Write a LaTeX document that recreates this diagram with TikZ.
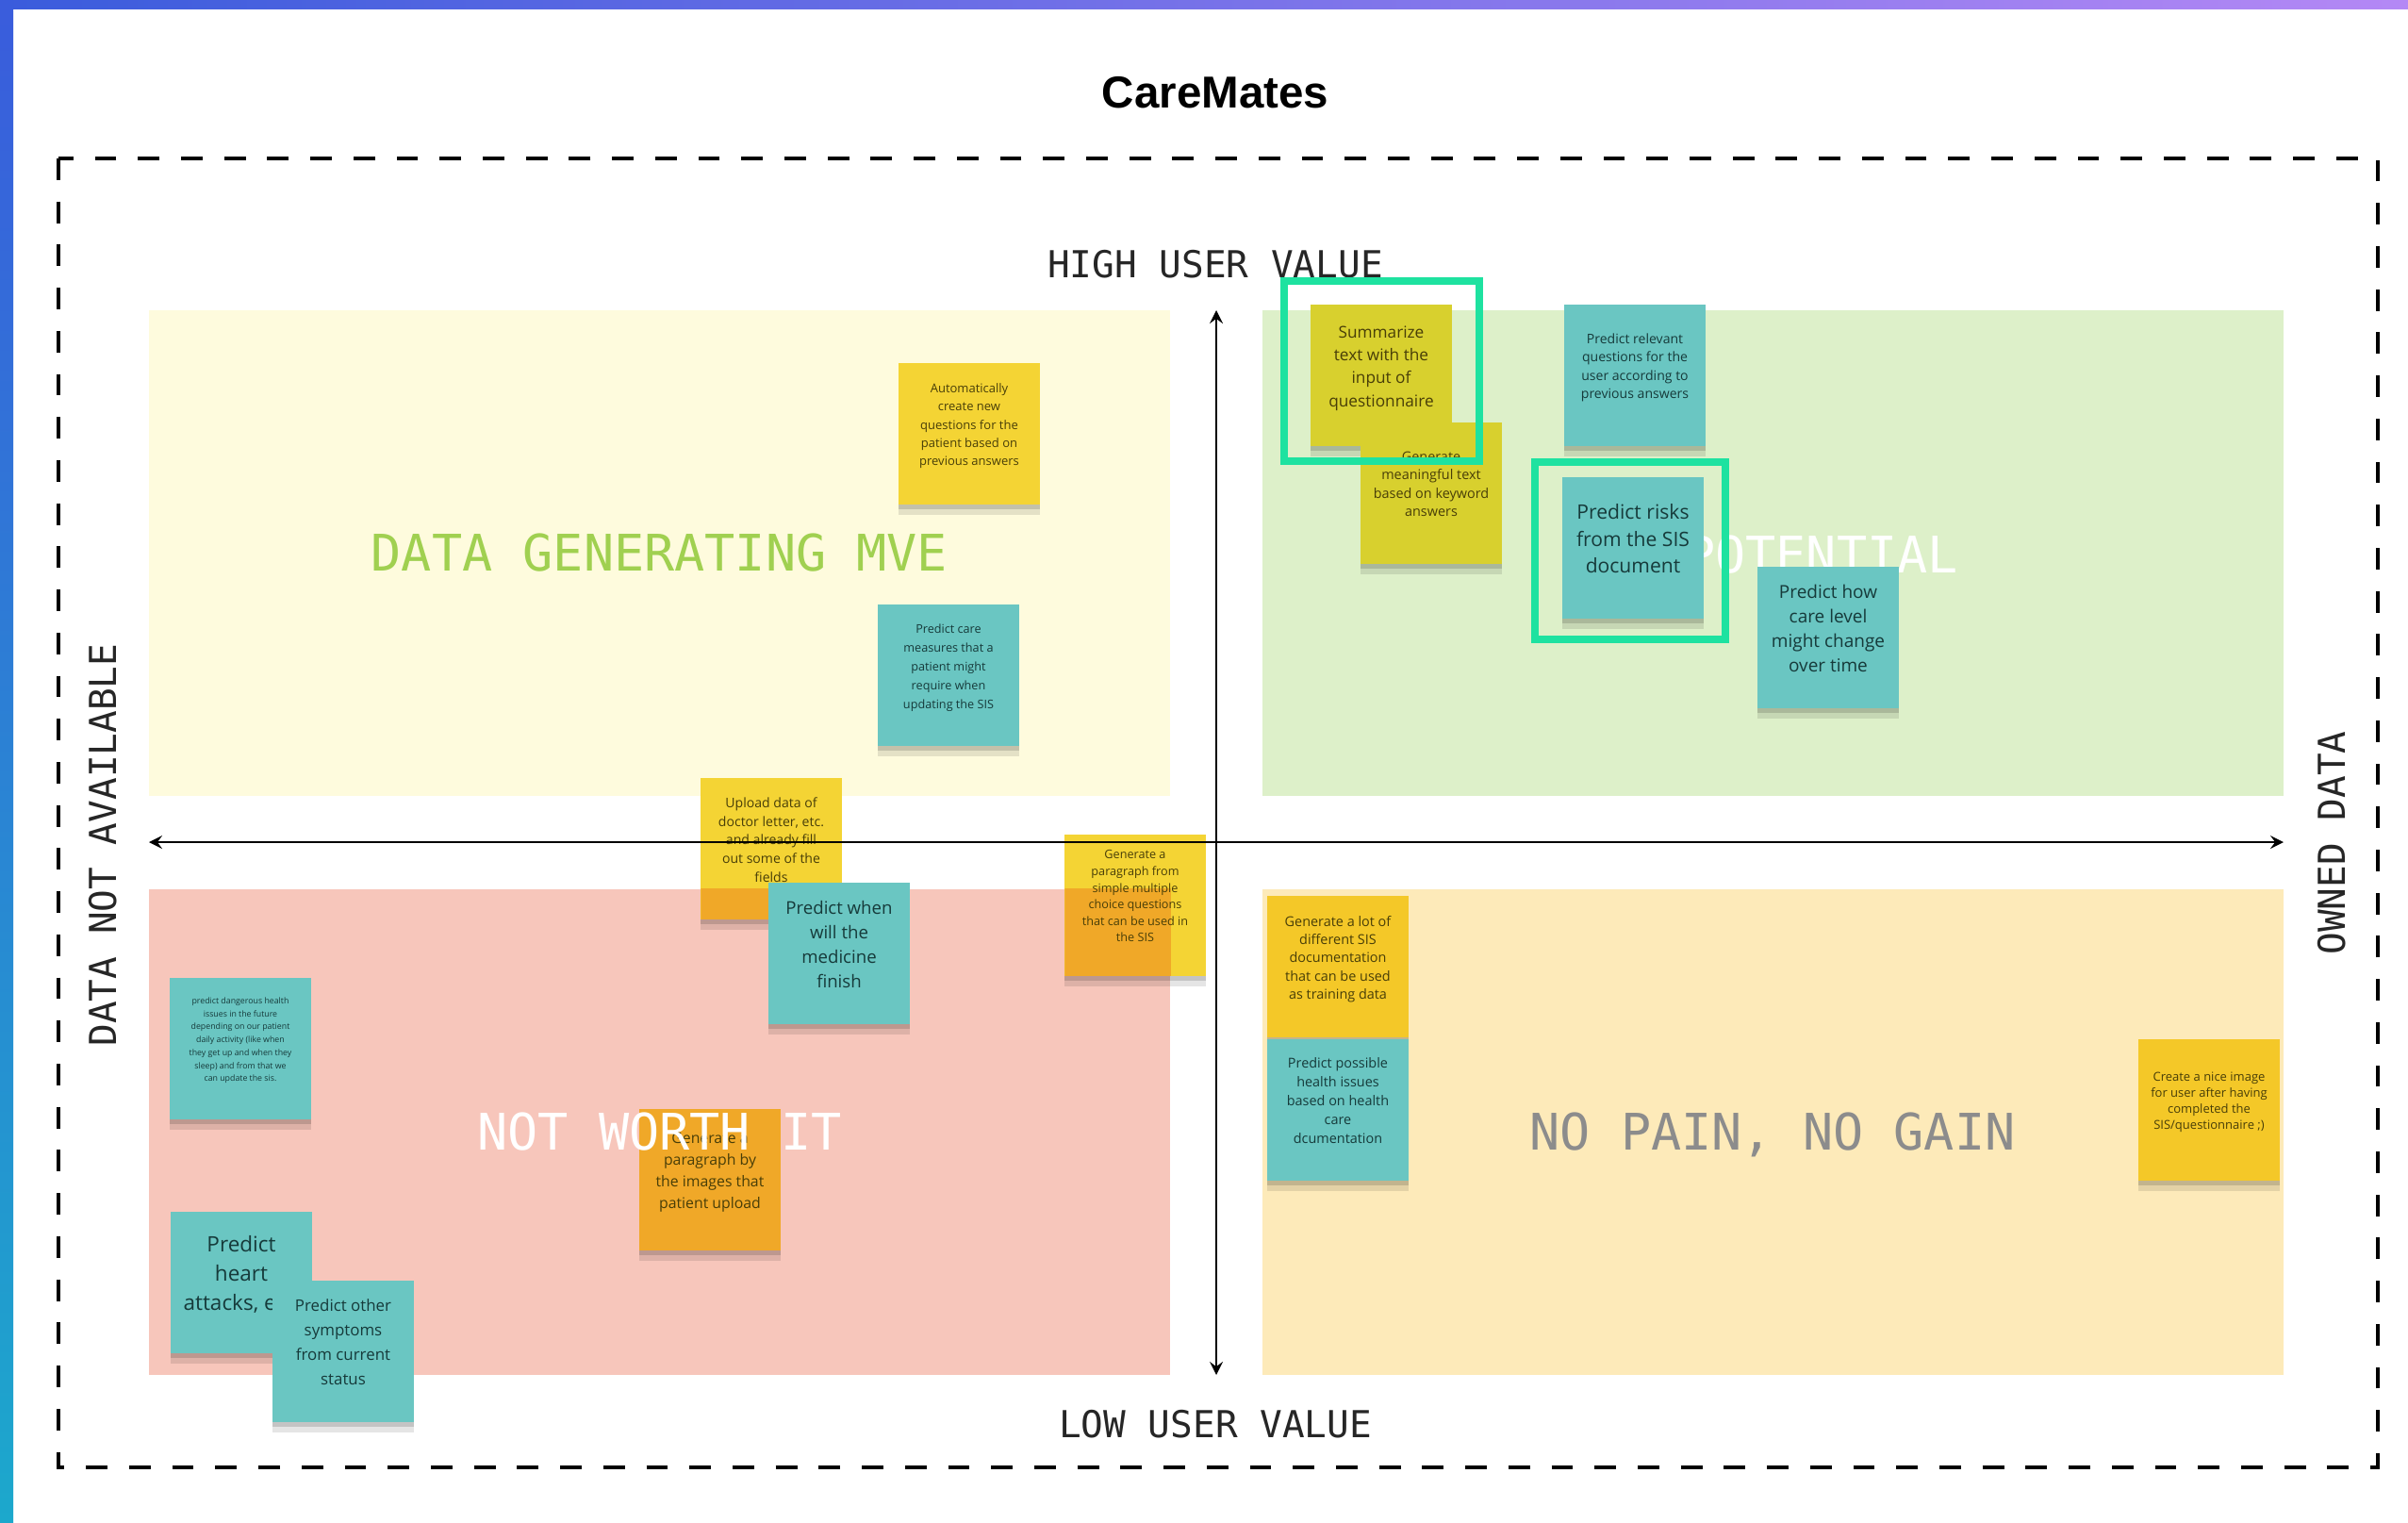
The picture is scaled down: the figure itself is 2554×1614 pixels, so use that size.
\documentclass[tikz,border=0pt]{standalone}
\usepackage{fontspec}
\setmainfont{Open Sans}
\newfontfamily\titlefont{Liberation Sans}
\newfontfamily\labelfont{DejaVu Sans Mono}
\newcommand{\notesize}[2]{\fontsize{#1}{#2}\selectfont}

\definecolor{mveback}{RGB}{254,251,221}
\definecolor{potback}{RGB}{221,240,201}
\definecolor{nwiback}{RGB}{247,198,187}
\definecolor{npngback}{RGB}{253,234,185}
\definecolor{stickyyellow}{RGB}{244,212,52}
\definecolor{stickyolive}{RGB}{216,208,46}
\definecolor{stickyorange}{RGB}{240,168,40}
\definecolor{stickyamber}{RGB}{244,200,40}
\definecolor{stickyteal}{RGB}{106,198,194}
\definecolor{yellowink}{RGB}{72,62,8}
\definecolor{tealink}{RGB}{22,58,58}
\definecolor{mvegreen}{RGB}{160,208,80}
\definecolor{highlight}{RGB}{30,226,160}
\definecolor{barblue}{RGB}{58,92,220}
\definecolor{barpurple}{RGB}{180,136,245}
\definecolor{barcyan}{RGB}{28,168,204}

\begin{document}
\begin{tikzpicture}[x=0.01cm, y=-0.01cm, >=stealth,
    quad/.style={minimum width=10.83cm, minimum height=5.15cm, inner sep=0pt},
    note/.style={minimum width=1.49cm, minimum height=1.49cm, inner sep=0pt, align=center, text depth=5.5pt,
        preaction={fill=black, opacity=0.1, transform canvas={yshift=-3.2pt}},
        preaction={fill=black, opacity=0.14, transform canvas={yshift=-1.6pt}}},
    ynote/.style={note, fill=stickyyellow, text=yellowink},
    tnote/.style={note, fill=stickyteal, text=tealink},
    onpink/.style={path picture={\fill[stickyorange] (nwi.north west) rectangle (nwi.south east);}},
    axislabel/.style={font=\labelfont\notesize{11.2}{13}, text=black!85},
    quadlabel/.style={font=\labelfont\notesize{15.2}{18}},
    hlbox/.style={draw=highlight, line width=2.3pt}]
    \useasboundingbox (0,0) rectangle (2554,1614);
    \fill[white] (0,0) rectangle (2554,1614);
    \shade[left color=barblue, right color=barpurple] (0,0) rectangle (2554,9);
    \shade[top color=barblue, bottom color=barcyan] (0,0) rectangle (14,1614);

    \node[font=\titlefont\bfseries\notesize{13.5}{16}] (title) at (1289,98) {CareMates};
    \draw[line width=1.1pt, dash pattern=on 6.5pt off 6.5pt] (62,168) rectangle (2522,1556);

    % quadrants
    \node[quad, fill=mveback] (mve) at (699.5,586.5) {};
    \node[quad, fill=potback] (pot) at (1880.5,586.5) {};
    \node[quad, fill=nwiback] (nwi) at (699.5,1200.5) {};
    \node[quad, fill=npngback] (npng) at (1880.5,1200.5) {};

    \node[axislabel] (high) at (1289,280) {HIGH USER VALUE};
    \node[axislabel] (low) at (1289,1510) {LOW USER VALUE};
    \node[axislabel, rotate=90] (notavail) at (109,896) {DATA NOT AVAILABLE};
    \node[axislabel, rotate=90] (owned) at (2473,894) {OWNED DATA};

    \node[quadlabel, text=mvegreen] (mvelabel) at (mve) {DATA GENERATING MVE};
    \node[quadlabel, text=black!45] (npnglabel) at (1880,1203) {NO PAIN, NO GAIN};
    \node[quadlabel, text=white] (potlabel) at (1932,588) {POTENTIAL};

    % sticky notes
    \node[ynote, font=\notesize{3.7}{5.5}] (autoq) at (1028,460) {Automatically\\create new\\questions for the\\patient based on\\previous answers};
    \node[tnote, font=\notesize{3.6}{5.7}] (caremeas) at (1006,716) {Predict care\\measures that a\\patient might\\require when\\updating the SIS};
    \node[ynote, onpink, font=\notesize{4}{5.6}] (upload) at (818,900) {Upload data of\\doctor letter, etc.\\and already fill\\out some of the\\fields};
    \node[ynote, onpink, font=\notesize{3.6}{5}] (gensimple) at (1204,960) {Generate a\\paragraph from\\simple multiple\\choice questions\\that can be used in\\the SIS};
    \node[tnote, font=\notesize{5.3}{7.4}] (medicine) at (890,1011) {Predict when\\will the\\medicine\\finish};
    \node[tnote, font=\notesize{2.5}{3.9}] (danger) at (255,1112) {predict dangerous health\\issues in the future\\depending on our patient\\daily activity (like when\\they get up and when they\\sleep) and from that we\\can update the sis.};
    \node[ynote, fill=stickyorange, font=\notesize{4.5}{6.5}] (genimages) at (753,1251) {Generate a\\paragraph by\\the images that\\patient upload};
    \node[tnote, font=\notesize{6.4}{8.8}] (heart) at (256,1360) {Predict\\heart\\attacks, etc.};
    \node[tnote, font=\notesize{4.8}{7.4}] (symptoms) at (364,1433) {Predict other\\symptoms\\from current\\status};
    \node[ynote, fill=stickyamber, font=\notesize{4.1}{5.5}] (genlot) at (1419,1025) {Generate a lot of\\different SIS\\documentation\\that can be used\\as training data};
    \node[tnote, font=\notesize{4.1}{5.7}] (possible) at (1419,1177) {Predict possible\\health issues\\based on health\\care\\dcumentation};
    \node[ynote, fill=stickyamber, font=\notesize{3.7}{4.9}] (niceimg) at (2343,1177) {Create a nice image\\for user after having\\completed the\\SIS/questionnaire ;)};
    \node[ynote, fill=stickyolive, font=\notesize{4.9}{6.9}] (summarize) at (1465,398) {Summarize\\text with the\\input of\\questionnaire};
    \node[ynote, fill=stickyolive, font=\notesize{4.1}{5.55}] (meaningful) at (1518,523) {Generate\\meaningful text\\based on keyword\\answers};
    \node[tnote, font=\notesize{4}{5.55}] (relevant) at (1734,398) {Predict relevant\\questions for the\\user according to\\previous answers};
    \node[tnote, font=\notesize{6}{8.1}] (risks) at (1732,581) {Predict risks\\from the SIS\\document};
    \node[tnote, font=\notesize{5.4}{7.4}] (carelevel) at (1939,676) {Predict how\\care level\\might change\\over time};

    \draw[hlbox] (1362,298) rectangle (1569,489);
    \draw[hlbox] (1628,490) rectangle (1830,678);

    % axes
    \coordinate (west) at (158,893);
    \coordinate (east) at (2422,893);
    \coordinate (north) at (1290,329);
    \coordinate (south) at (1290,1458);
    \draw[<->, line width=0.75pt] (west) -- (east);
    \draw[<->, line width=0.75pt] (north) -- (south);

    \node[quadlabel, text=white] (nwilabel) at (nwi) {NOT WORTH IT};
\end{tikzpicture}
\end{document}
